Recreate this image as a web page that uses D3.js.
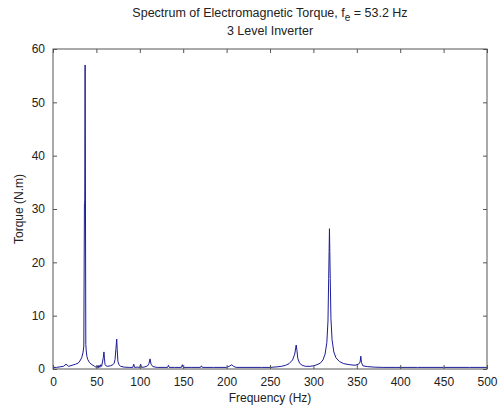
<!DOCTYPE html>
<html lang="en">
<head>
  <meta charset="utf-8">
  <title>Spectrum of Electromagnetic Torque</title>
  <script src="https://d3js.org/d3.v7.min.js"></script>
  <style>
    body { margin: 0; background: #fff; }
    svg text { font-family: "Liberation Sans", Arial, sans-serif; fill: #222; }
  </style>
</head>
<body>
<svg width="500" height="412"></svg>
<script>
  // frequency (Hz) and torque (N.m)
  var freq = [0, 4, 8, 12, 15, 18, 22, 26, 29, 31, 33, 34.5, 35.5, 36.2, 36.6, 37, 37.4, 37.8, 38.3, 39, 40, 42, 45, 48, 50,
              51, 52, 53, 54, 55, 56, 57, 58, 58.7, 59.3, 60, 61, 63, 66, 69, 70.5, 71.5, 72.5, 73.4, 74, 74.8, 76, 78, 82,
              88, 92, 93, 94, 97, 100, 101, 102, 106, 109, 110.5, 111.8, 113, 115, 120, 128, 132, 133, 134, 140, 148, 149,
              150, 160, 170, 171, 172, 185, 200, 203, 206, 208, 211, 220, 240, 250, 258, 263, 268, 272, 276, 278.5, 280.2,
              281, 282, 284, 287, 291, 296, 300, 304, 308, 311, 313.5, 315.5, 316.8, 317.6, 318.1, 318.5, 318.9, 319.4,
              320.2, 321.5, 323.5, 326, 330, 335, 342, 348, 352, 353.8, 354.6, 355.4, 357, 362, 370, 380, 395, 420, 450, 480, 500];
  var torque = [0.3, 0.3, 0.4, 0.5, 0.9, 0.5, 0.7, 0.9, 1.1, 1.5, 2.1, 3.0, 4.3, 31, 31.5, 57, 31.5, 4.6, 3.4, 2.4, 1.8, 1.2, 0.8, 0.5, 0.3,
                0.6, 0.2, 0.7, 0.3, 0.8, 0.5, 1.3, 2.2, 3.2, 1.9, 0.8, 0.6, 0.5, 0.6, 0.8, 1.1, 1.8, 3.8, 5.6, 3.6, 1.4, 0.8, 0.5, 0.35,
                0.3, 0.3, 0.9, 0.3, 0.35, 0.3, 0.9, 0.3, 0.4, 0.6, 1.0, 1.9, 0.9, 0.45, 0.3, 0.3, 0.3, 0.7, 0.3, 0.3, 0.3, 0.8,
                0.3, 0.3, 0.3, 0.6, 0.3, 0.3, 0.3, 0.5, 0.8, 0.5, 0.3, 0.3, 0.3, 0.3, 0.4, 0.5, 0.7, 1.0, 1.7, 2.8, 4.5,
                3.5, 2.0, 1.1, 0.7, 0.5, 0.5, 0.6, 0.8, 1.1, 1.7, 2.8, 5.0, 9.0, 17, 22, 26.3, 22, 17,
                9.5, 5.5, 3.2, 2.1, 1.4, 1.0, 0.8, 0.7, 0.9, 1.3, 2.4, 1.2, 0.6, 0.45, 0.35, 0.3, 0.3, 0.3, 0.3, 0.3, 0.3];

  var xTicks = [0, 50, 100, 150, 200, 250, 300, 350, 400, 450, 500];
  var yTicks = [0, 10, 20, 30, 40, 50, 60];

  var svg = d3.select("svg"),
      margin = {top: 49, right: 13, bottom: 43, left: 53},
      width = +svg.attr("width") - margin.left - margin.right,
      height = +svg.attr("height") - margin.top - margin.bottom;

  var canvas = svg.append("g")
      .attr("transform", "translate(" + margin.left + "," + margin.top + ")");

  var xScale = d3.scaleLinear().domain([0, 500]).range([0, width]);
  var yScale = d3.scaleLinear().domain([0, 60]).range([height, 0]);

  var points = freq.map(function(f, i) { return [f, torque[i]]; });

  var line = d3.line()
      .x(function(d) { return xScale(d[0]); })
      .y(function(d) { return yScale(d[1]); });

  canvas.append("path")
      .datum(points)
      .attr("fill", "none")
      .attr("stroke", "#1c1c96")
      .attr("stroke-width", 1)
      .attr("d", line);

  // axes, matlab style: ticks inside, box all round
  function styleAxis(g) {
    g.select(".domain").remove();
    g.selectAll("line").attr("stroke", "#555");
    g.selectAll("text").attr("font-size", "12px").attr("fill", "#222");
  }

  canvas.append("g")
      .attr("transform", "translate(0," + height + ")")
      .call(d3.axisBottom(xScale).tickValues(xTicks).tickSizeInner(-4).tickSizeOuter(0).tickPadding(8))
      .call(styleAxis);

  canvas.append("g")
      .call(d3.axisTop(xScale).tickValues(xTicks).tickSizeInner(-4).tickSizeOuter(0).tickFormat(""))
      .call(styleAxis);

  canvas.append("g")
      .call(d3.axisLeft(yScale).tickValues(yTicks).tickSizeInner(-4).tickSizeOuter(0).tickPadding(8))
      .call(styleAxis);

  canvas.append("g")
      .attr("transform", "translate(" + width + ",0)")
      .call(d3.axisRight(yScale).tickValues(yTicks).tickSizeInner(-4).tickSizeOuter(0).tickFormat(""))
      .call(styleAxis);

  canvas.append("rect")
      .attr("width", width)
      .attr("height", height)
      .attr("fill", "none")
      .attr("stroke", "#555")
      .attr("stroke-width", 1);

  // labels
  canvas.append("text")
      .attr("x", width / 2)
      .attr("y", height + 33)
      .attr("text-anchor", "middle")
      .attr("font-size", "12px")
      .text("Frequency (Hz)");

  canvas.append("text")
      .attr("transform", "rotate(-90)")
      .attr("x", -height / 2)
      .attr("y", -30)
      .attr("text-anchor", "middle")
      .attr("font-size", "12px")
      .text("Torque (N.m)");

  var title = svg.append("text")
      .attr("x", margin.left + width / 2)
      .attr("y", 17)
      .attr("text-anchor", "middle")
      .attr("font-size", "12.5px");
  title.append("tspan").text("Spectrum of Electromagnetic Torque, f");
  title.append("tspan").attr("dy", 4).attr("font-size", "10px").text("e");
  title.append("tspan").attr("dy", -4).text(" = 53.2 Hz");

  svg.append("text")
      .attr("x", margin.left + width / 2)
      .attr("y", 35)
      .attr("text-anchor", "middle")
      .attr("font-size", "12.5px")
      .text("3 Level Inverter");
</script>
</body>
</html>
